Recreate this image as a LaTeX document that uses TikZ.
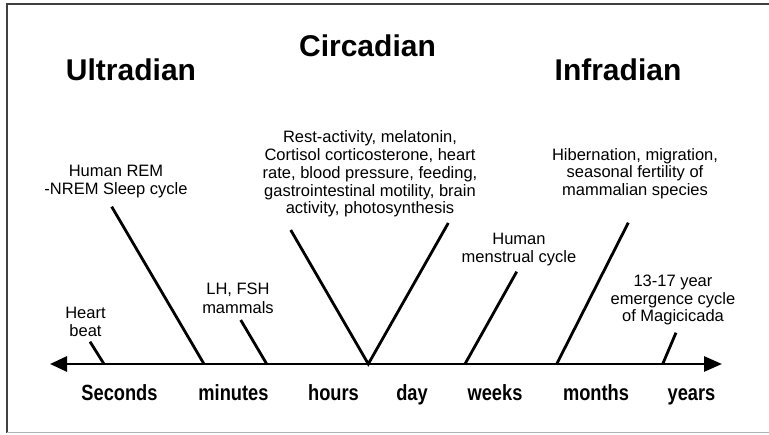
\documentclass[tikz,border=0pt]{standalone}
\usepackage{fontspec}
\setmainfont{Liberation Sans}
\newfontfamily\condfont[FakeStretch=0.83]{Liberation Sans}
\usetikzlibrary{arrows.meta}
\begin{document}
\begin{tikzpicture}[x=1pt,y=1pt,
  title/.style={font=\fontsize{30}{34}\selectfont\bfseries, inner sep=0, anchor=base},
  scale lbl/.style={font=\condfont\fontsize{22}{26}\selectfont\bfseries, inner sep=0, anchor=base},
  small/.style={font=\fontsize{16.5}{17.8}\selectfont, align=center, inner sep=0, anchor=north},
  smallw/.style={font=\fontsize{16.5}{18.8}\selectfont, align=center, inner sep=0, anchor=north},
  spoke/.style={line width=2.8pt, black},
  axis/.style={line width=2.8pt, black, {Triangle[length=17pt,width=15pt]}-{Triangle[length=18pt,width=15pt]}}]
\useasboundingbox (0,0) rectangle (769,435);
\fill[white] (0,0) rectangle (769,435);
% frame
\draw[line width=2pt, black!75] (6.5,2) -- (6.5,430.5) -- (769,430.5);
\draw[line width=1.5pt, black!30] (6.5,2.5) -- (769,2.5);
% axis
\coordinate (L) at (50,71);
\coordinate (R) at (722,71);
\draw[axis] (L) -- (R);
% axis points
\coordinate (hbA) at (104,71);
\coordinate (remA) at (204,71);
\coordinate (lhA) at (266.7,71);
\coordinate (circA) at (368.3,71);
\coordinate (menA) at (465,71);
\coordinate (hibA) at (556.7,71);
\coordinate (magA) at (662.7,71);
% top points
\coordinate (hbT) at (90,93.3);
\coordinate (remT) at (111.7,228.3);
\coordinate (lhT) at (240.7,115);
\coordinate (circL) at (290.7,205);
\coordinate (circR) at (448.3,212);
\coordinate (menT) at (516.7,163.3);
\coordinate (hibT) at (628.3,212.3);
\coordinate (magT) at (676,102.3);
% spokes
\draw[spoke] (hbT) -- (hbA);
\draw[spoke] (remT) -- (remA);
\draw[spoke] (lhT) -- (lhA);
\draw[spoke, line join=miter] (circL) -- (circA) -- (circR);
\draw[spoke] (menT) -- (menA);
\draw[spoke] (hibT) -- (hibA);
\draw[spoke] (magT) -- (magA);
% titles
\node[title] (ultra) at (131,354) {Ultradian};
\node[title] (circa) at (367.5,378) {Circadian};
\node[title] (infra) at (618,354) {Infradian};
% scale labels
\node[scale lbl] (sec) at (119.5,34) {Seconds};
\node[scale lbl] (min) at (233.5,34) {minutes};
\node[scale lbl] (hrs) at (333.5,34) {hours};
\node[scale lbl] (day) at (412,34) {day};
\node[scale lbl] (wks) at (495,34) {weeks};
\node[scale lbl] (mon) at (596,34) {months};
\node[scale lbl] (yrs) at (691.5,34) {years};
% small labels
\node[smallw] (remL) at (116,270.5) {Human REM\\-NREM Sleep cycle};
\node[small] (circT) at (370,304.5) {Rest-activity, melatonin,\\Cortisol corticosterone, heart\\rate, blood pressure, feeding,\\gastrointestinal motility, brain\\activity, photosynthesis};
\node[small] (hibL) at (635,287) {Hibernation, migration,\\seasonal fertility of\\mammalian species};
\node[smallw] (hbL) at (85.5,128.5) {Heart\\beat};
\node[smallw] (lhL) at (238,152.5) {LH, FSH\\mammals};
\node[smallw] (menL) at (519,202.5) {Human\\menstrual cycle};
\node[small] (magL) at (673,160.5) {13-17 year\\emergence cycle\\of Magicicada};
\end{tikzpicture}
\end{document}
